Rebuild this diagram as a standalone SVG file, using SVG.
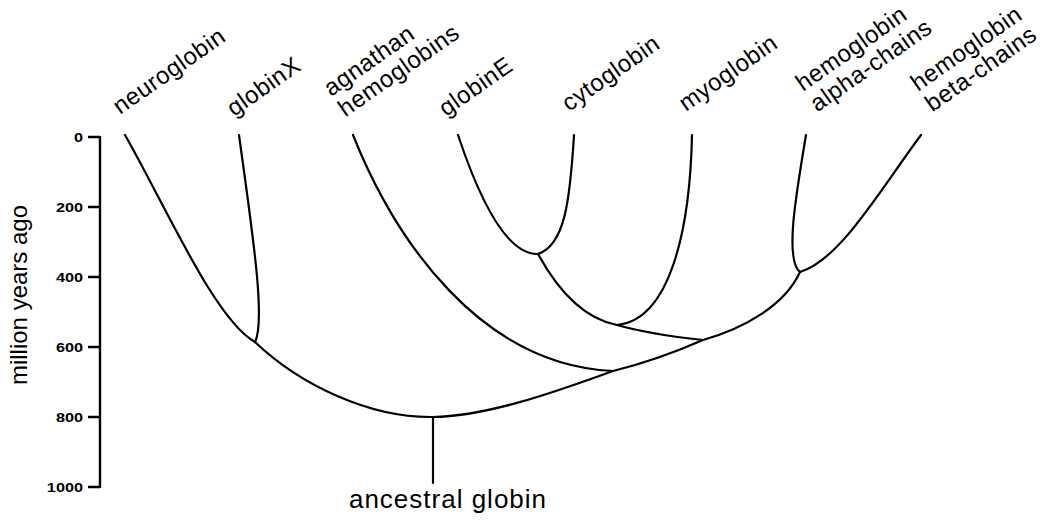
<svg xmlns="http://www.w3.org/2000/svg" width="1044" height="520" viewBox="0 0 1044 520">
<style>
.br{fill:none;stroke:#000;stroke-width:2.2;stroke-linecap:round;stroke-linejoin:round}
.ax{fill:none;stroke:#000;stroke-width:2.4}
.lb{font-family:"Liberation Sans",Arial,sans-serif;font-size:24px;letter-spacing:0.5px;fill:#000}
.anc{font-family:"Liberation Sans",Arial,sans-serif;font-size:26px;letter-spacing:1px;fill:#000}
.tk{font-family:"Liberation Sans",Arial,sans-serif;font-size:13px;font-weight:bold;fill:#000}
.ttl{font-family:"Liberation Sans",Arial,sans-serif;font-size:24px;fill:#000}
</style>
<rect width="1044" height="520" fill="#fff"/>
<g id="axis">
<path class="ax" d="M100,136 V488 M88,137 H100 M88,207 H100 M88,277 H100 M88,347 H100 M88,417 H100 M88,487 H100"/>
<g class="tk" text-anchor="end">
<text transform="translate(83,142) scale(1.25,1)">0</text>
<text transform="translate(83,212) scale(1.25,1)">200</text>
<text transform="translate(83,282) scale(1.25,1)">400</text>
<text transform="translate(83,352) scale(1.25,1)">600</text>
<text transform="translate(83,422) scale(1.25,1)">800</text>
<text transform="translate(83,492) scale(1.25,1)">1000</text>
</g>
<text class="ttl" text-anchor="middle" transform="translate(27,295) rotate(-90)">million years ago</text>
</g>
<g id="connectors">
<path class="br" d="M125,135 C165,205 215,320 255,342"/>
<path class="br" d="M239,135 C252,230 266,320 255,342"/>
<path class="br" d="M255,342 C300,385 370,418 433,417"/>
<path class="br" d="M433,417 C490,416 560,390 613,371"/>
<path class="br" d="M433,417 V483"/>
<path class="br" d="M353,135 C395,240 480,365 613,371"/>
<path class="br" d="M613,371 C650,362 680,350 703,340 C745,328 785,305 800,272"/>
<path class="br" d="M617,325 C645,333 675,337 703,340"/>
<path class="br" d="M538,254 C555,285 580,318 617,325"/>
<path class="br" d="M692,135 C690,230 670,320 617,325"/>
<path class="br" d="M458,135 C478,195 505,255 538,254"/>
<path class="br" d="M574,135 C570,200 565,245 538,254"/>
<path class="br" d="M806,135 C795,200 785,260 800,272"/>
<path class="br" d="M921,135 C880,190 840,260 800,272"/>
</g>
<g id="n-neuroglobin"><text class="lb" transform="translate(120,115) rotate(-35)">neuroglobin</text></g>
<g id="n-globinX"><text class="lb" transform="translate(234,117) rotate(-35)">globinX</text></g>
<g id="n-agnathan"><text class="lb" transform="translate(331,97) rotate(-35)"><tspan x="0" y="0">agnathan</tspan><tspan x="0" y="25">hemoglobins</tspan></text></g>
<g id="n-globinE"><text class="lb" transform="translate(446,117) rotate(-35)">globinE</text></g>
<g id="n-cytoglobin"><text class="lb" transform="translate(569,112) rotate(-35)">cytoglobin</text></g>
<g id="n-myoglobin"><text class="lb" transform="translate(686,112) rotate(-35)">myoglobin</text></g>
<g id="n-alpha"><text class="lb" transform="translate(803,92) rotate(-35)"><tspan x="0" y="0">hemoglobin</tspan><tspan x="0" y="25">alpha-chains</tspan></text></g>
<g id="n-beta"><text class="lb" transform="translate(918,92) rotate(-35)"><tspan x="0" y="0">hemoglobin</tspan><tspan x="0" y="25">beta-chains</tspan></text></g>
<g id="n-ancestral"><text class="anc" x="448" y="508" text-anchor="middle">ancestral globin</text></g>
</svg>
